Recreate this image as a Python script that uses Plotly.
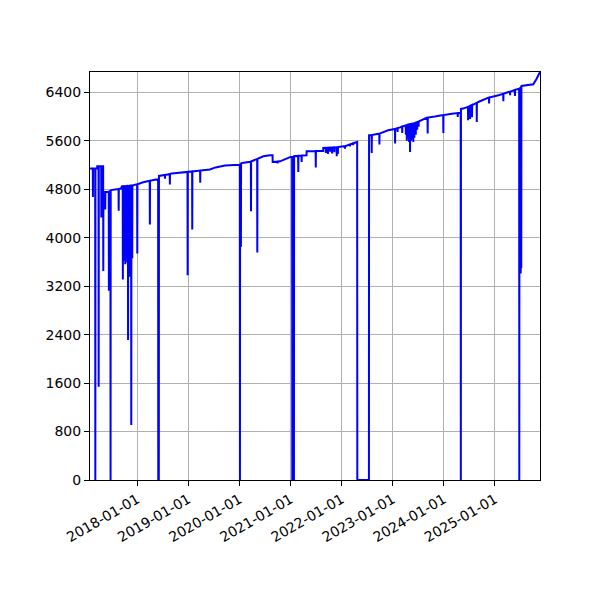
import pandas as pd
import plotly.graph_objects as go

# Trend / level points (including multi-day outages)
level_dates = [
    "2017-01-28", "2017-03-20", "2017-03-21", "2017-05-02", "2017-05-03", "2017-05-04",
    "2017-06-05", "2017-06-28", "2017-09-06", "2017-09-14", "2017-12-25", "2018-02-12",
    "2018-03-31", "2018-05-30", "2018-05-31", "2018-06-04", "2018-06-05", "2018-09-04",
    "2018-12-26", "2019-04-16", "2019-06-04", "2019-07-15", "2019-09-20", "2020-01-01",
    "2020-01-20", "2020-03-20", "2020-06-20", "2020-08-07", "2020-08-25", "2020-08-26",
    "2020-10-18", "2020-12-28", "2021-01-12", "2021-01-13", "2021-01-25", "2021-01-26",
    "2021-04-25", "2021-04-26", "2021-08-22", "2021-08-23", "2021-12-21", "2022-04-22",
    "2022-04-23", "2022-07-15", "2022-07-16", "2022-09-20", "2022-11-29", "2023-02-23",
    "2023-03-29", "2023-07-15", "2023-09-01", "2023-10-30", "2023-12-19", "2024-02-29",
    "2024-05-01", "2024-05-02", "2024-05-03", "2024-05-18", "2024-09-04", "2024-11-15",
    "2025-01-26", "2025-04-07", "2025-06-15", "2025-07-10", "2025-10-02", "2025-10-25",
    "2025-11-19",
]
level_values = [
    5140, 5140, 5180, 5180, 3452, 4756,
    4758, 4785, 4811, 4850, 4880, 4915,
    4940, 4970, 0, 0, 5020, 5059,
    5086, 5115, 5125, 5160, 5190, 5203,
    5232, 5255, 5344, 5361, 5361, 5251,
    5260, 5330, 5335, 0, 0, 5345,
    5361, 5427, 5432, 5480, 5500, 5580,
    0, 0, 5691, 5715, 5773, 5820,
    5850, 5928, 5980, 6000, 6021, 6045,
    6060, 0, 6125, 6131, 6240, 6312,
    6351, 6405, 6455, 6505, 6532, 6620,
    6735,
]

# Single-day drops: date, level around the drop, lowest value
dip_dates = [
    "2017-02-18", "2017-03-07", "2017-03-31", "2017-04-19", "2017-05-17", "2017-06-12",
    "2017-06-24", "2017-08-21", "2017-09-20", "2017-09-28", "2017-10-07", "2017-10-15",
    "2017-10-22", "2017-10-27", "2017-11-02", "2017-11-08", "2017-11-14", "2017-11-19",
    "2017-11-26", "2018-01-01", "2018-04-01", "2018-07-18", "2018-08-22", "2018-12-27",
    "2019-01-29", "2019-03-27", "2020-01-05", "2020-01-09", "2020-01-12", "2020-03-24",
    "2020-05-08", "2020-09-30", "2021-02-25", "2021-03-21", "2021-06-30", "2021-09-10",
    "2021-09-25", "2021-10-10", "2021-10-25", "2021-11-10", "2021-11-27", "2021-12-05",
    "2022-01-25", "2022-03-02", "2022-03-25", "2022-08-04", "2022-09-28", "2023-01-18",
    "2023-02-05", "2023-03-10", "2023-04-05", "2023-04-12", "2023-04-20", "2023-04-28",
    "2023-05-05", "2023-05-12", "2023-05-20", "2023-05-28", "2023-06-05", "2023-06-15",
    "2023-06-25", "2023-07-05", "2023-09-08", "2023-12-29", "2024-04-10", "2024-06-23",
    "2024-07-07", "2024-07-21", "2024-08-24", "2024-11-20", "2025-03-02", "2025-04-19",
    "2025-05-24", "2025-06-24", "2025-06-29", "2025-07-04", "2025-07-08",
]
dip_levels = [
    5140, 5140, 5180, 5180, 4756, 4760,
    4775, 4805, 4850, 4851, 4852, 4853,
    4854, 4855, 4856, 4857, 4858, 4859,
    4860, 4882, 4940, 5035, 5050, 5086,
    5093, 5108, 5204, 5215, 5225, 5258,
    5300, 5255, 5350, 5355, 5430, 5483,
    5485, 5487, 5489, 5491, 5493, 5495,
    5510, 5540, 5560, 5693, 5718, 5795,
    5808, 5835, 5855, 5860, 5865, 5870,
    5873, 5876, 5880, 5884, 5890, 5897,
    5905, 5915, 5982, 6023, 6057, 6160,
    6175, 6190, 6225, 6314, 6375, 6410,
    6440, 6458, 6468, 6478, 6490,
]
dip_lows = [
    4673, 0, 1540, 4333, 4466, 3123,
    0, 4443, 3310, 3620, 3563, 3650,
    3590, 2309, 3600, 3354, 3630, 907,
    3660, 3739, 4218, 4975, 4877, 3381,
    4135, 4905, 0, 4508, 3849, 4437,
    3756, 5225, 5086, 5251, 5157, 5400,
    5380, 5420, 5390, 5410, 5344, 5380,
    5470, 5505, 5525, 5399, 5537, 5554,
    5745, 5730, 5700, 5600, 5650, 5580,
    5415, 5600, 5620, 5580, 5650, 5700,
    5780, 5830, 5719, 5730, 5993, 5938,
    5960, 5990, 5910, 6214, 6252, 6350,
    6340, 0, 3410, 3410, 3500,
]

y_ticks = [0, 800, 1600, 2400, 3200, 4000, 4800, 5600, 6400]
x_ticks = ["2018-01-01", "2019-01-01", "2020-01-01", "2021-01-01",
           "2022-01-01", "2023-01-01", "2024-01-01", "2025-01-01"]

# assemble series
rows = [(pd.Timestamp(d), v) for d, v in zip(level_dates, level_values)]
one_day = pd.Timedelta(days=1)
for d, lv, lo in zip(dip_dates, dip_levels, dip_lows):
    t = pd.Timestamp(d)
    rows += [(t - one_day, lv), (t, lo), (t + one_day, lv)]
df = pd.DataFrame(rows, columns=["date", "value"]).sort_values("date", kind="mergesort")

fig = go.Figure()
fig.add_trace(go.Scatter(
    x=df["date"], y=df["value"], mode="lines",
    line=dict(color="#0000ff", width=2, simplify=False),
    hoverinfo="skip", showlegend=False,
))

font = dict(family="DejaVu Sans", size=14, color="black")
axis_common = dict(
    showgrid=True, gridcolor="#b0b0b0", gridwidth=1,
    showline=True, linecolor="black", linewidth=1, mirror=True,
    ticks="outside", ticklen=5, tickwidth=1, tickcolor="black",
    tickfont=font, zeroline=False,
)
fig.update_xaxes(type="date", range=["2017-01-28", "2025-11-19"],
                 tickvals=x_ticks, ticktext=x_ticks, tickangle=-30, **axis_common)
fig.update_yaxes(range=[0, 6735], tickvals=y_ticks,
                 ticktext=[str(v) for v in y_ticks], **axis_common)
# page body adds an 8px offset; margins compensate so the plot area sits at x 90-540, y 72-480
fig.update_layout(
    width=600, height=600,
    margin=dict(l=82, r=68, t=64, b=128),
    paper_bgcolor="white", plot_bgcolor="white",
)
fig.write_html("out.html")
